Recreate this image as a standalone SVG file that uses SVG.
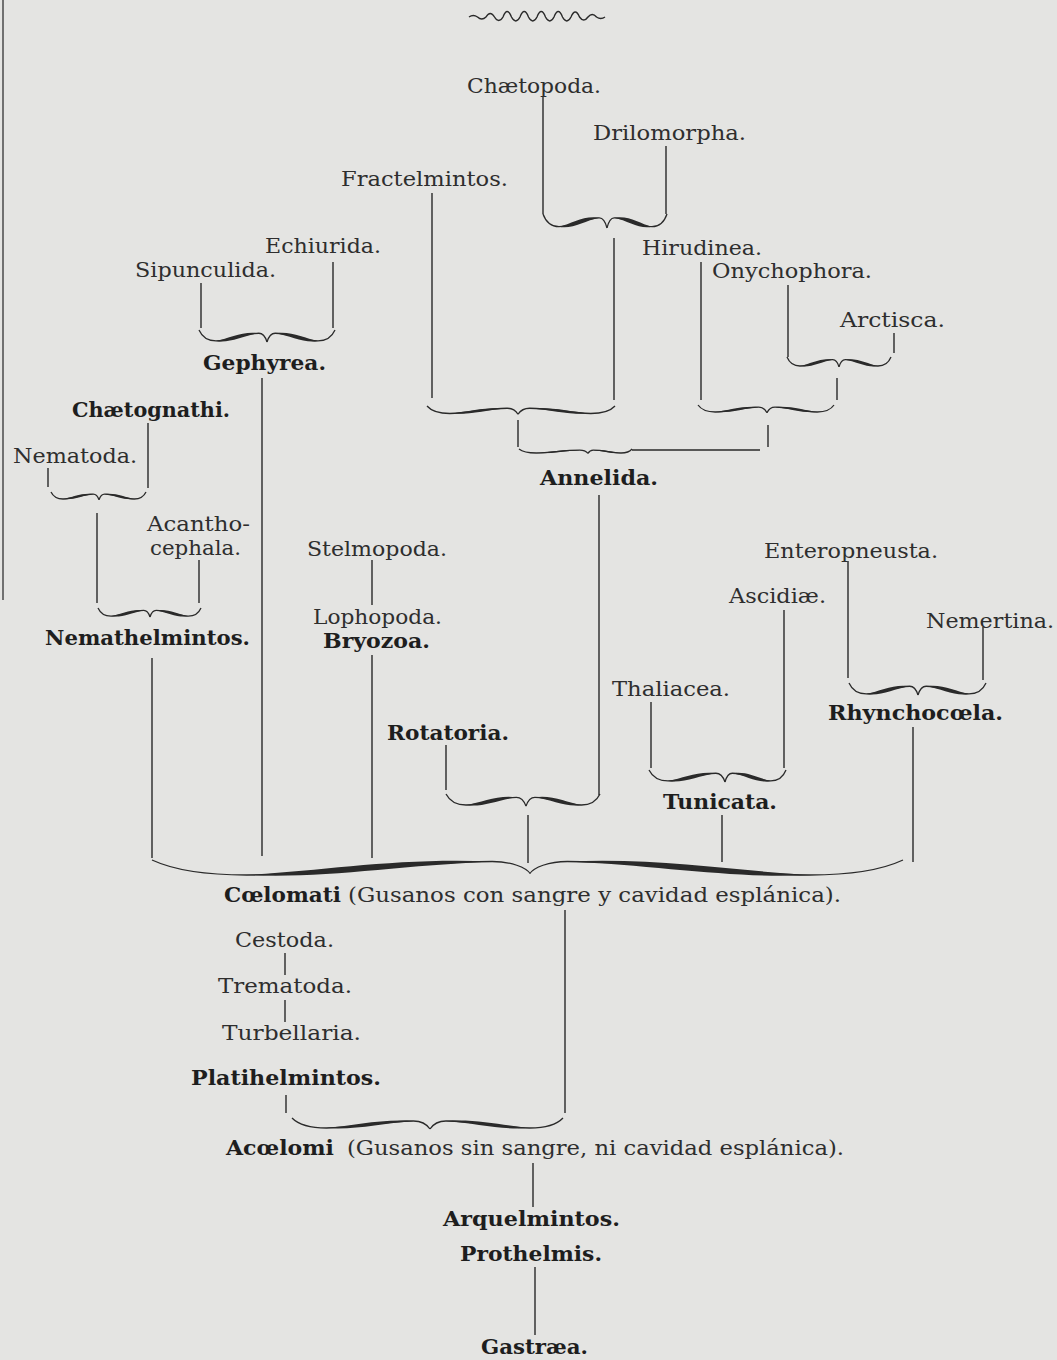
<svg xmlns="http://www.w3.org/2000/svg" xmlns:xlink="http://www.w3.org/1999/xlink" width="1057" height="1360" viewBox="0 0 1057 1360">
<style>
.r{font-family:"DejaVu Serif","Liberation Serif",serif;font-size:21px;fill:#2e2e2e}
.b{font-family:"DejaVu Serif","Liberation Serif",serif;font-size:20.5px;font-weight:bold;fill:#1e1e1e}
.ln{stroke:#2a2a2a;stroke-width:1.4;fill:none}
.bc{stroke:#2a2a2a;stroke-width:1.3;fill:none;vector-effect:non-scaling-stroke}
.bf{fill:#2a2a2a;stroke:none}
</style>
<defs>
<g id="hb">
<path class="bc" d="M0,0 C5,7 14,10 25,10 C45,10 65,3 88,3 C94,3 98,7 100,11"/>
<path class="bf" d="M25,10 C45,7.6 65,0.6 88,3 C65,5.4 45,12.4 25,10 Z"/>
</g>
<g id="hbk">
<path class="bc" d="M0,0 C6,7 15,10 25,10 C45,10 65,1 90,1 C95,1 99,5 100,9"/>
<path class="bf" d="M25,10 C45,7.3 65,-1.7 90,1 C65,3.7 45,12.7 25,10 Z"/>
</g>
</defs>
<rect width="1057" height="1360" fill="#e4e4e2"/>
<line x1="3" y1="0" x2="3" y2="600" stroke="#4a4a4a" stroke-width="1.5"/>
<path id="ornament" class="ln" stroke-width="1.4" d="M469,17 Q473.25,14 477.5,17 Q481.75,21 486,17 Q490.25,10 494.5,17 Q498.75,24 503,17 Q507.25,6 511.5,17 Q515.75,25 520,17 Q524.25,6 528.5,17 Q532.75,25 537,17 Q541.25,6 545.5,17 Q549.75,25 554,17 Q558.25,6 562.5,17 Q566.75,25 571,17 Q575.25,7 579.5,17 Q583.75,23 588,17 Q592.25,12 596.5,17 Q600.75,20 605,17"/>

<g id="connectors">
<path class="ln" d="M543,97 V214 M666,146 V214 M614,238 V400 M432,193 V398 M518,420 V447 M768,425 V447 M632,450 H760 M599,495 V795 M701,262 V400 M788,285 V357 M894,333 V353 M837,378 V400 M201,283 V328 M333,262 V328 M262,378 V856 M148,423 V488 M48,468 V487 M97,513 V603 M199,560 V603 M152,658 V858 M372,560 V605 M372,655 V858 M446,745 V790 M528,815 V863 M651,702 V768 M784,610 V768 M722,815 V862 M848,561 V678 M983,627 V680 M913,727 V862 M565,910 V1113 M285,953 V975 M285,1000 V1022 M286,1095 V1113 M533,1163 V1207 M535,1267 V1335"/>
<use xlink:href="#hb" transform="translate(543,214) scale(0.64,1.27)"/>
<use xlink:href="#hb" transform="translate(667,214) scale(-0.60,1.27)"/>
<use xlink:href="#hb" transform="translate(427,406) scale(0.91,0.75)"/>
<use xlink:href="#hb" transform="translate(615,406) scale(-0.97,0.75)"/>
<use xlink:href="#hb" transform="translate(787,357) scale(0.52,0.9)"/>
<use xlink:href="#hb" transform="translate(891,357) scale(-0.52,0.9)"/>
<use xlink:href="#hb" transform="translate(698,405) scale(0.69,0.7)"/>
<use xlink:href="#hb" transform="translate(834,405) scale(-0.67,0.7)"/>
<use xlink:href="#hb" transform="translate(519,449) scale(0.69,0.4)"/>
<use xlink:href="#hb" transform="translate(632,449) scale(-0.44,0.4)"/>
<use xlink:href="#hb" transform="translate(199,330) scale(0.68,1.09)"/>
<use xlink:href="#hb" transform="translate(335,330) scale(-0.68,1.09)"/>
<use xlink:href="#hb" transform="translate(51,492) scale(0.48,0.7)"/>
<use xlink:href="#hb" transform="translate(146,492) scale(-0.47,0.7)"/>
<use xlink:href="#hb" transform="translate(98,608) scale(0.52,0.82)"/>
<use xlink:href="#hb" transform="translate(201,608) scale(-0.51,0.82)"/>
<use xlink:href="#hb" transform="translate(446,794) scale(0.80,1.1)"/>
<use xlink:href="#hb" transform="translate(600,794) scale(-0.74,1.1)"/>
<use xlink:href="#hb" transform="translate(649,770) scale(0.76,1.09)"/>
<use xlink:href="#hb" transform="translate(786,770) scale(-0.61,1.09)"/>
<use xlink:href="#hb" transform="translate(849,683) scale(0.69,1.09)"/>
<use xlink:href="#hb" transform="translate(986,683) scale(-0.68,1.09)"/>
<use xlink:href="#hbk" transform="translate(152,860) scale(3.78,1.5)"/>
<use xlink:href="#hbk" transform="translate(903,860) scale(-3.73,1.5)"/>
<use xlink:href="#hb" transform="translate(292,1118) scale(1.38,1.0)"/>
<use xlink:href="#hb" transform="translate(563,1118) scale(-1.33,1.0)"/>
</g>

<g id="n_chaetopoda"><text class="r" x="467" y="93" textLength="134" lengthAdjust="spacingAndGlyphs">Chætopoda.</text></g>
<g id="n_drilomorpha"><text class="r" x="593" y="140" textLength="153" lengthAdjust="spacingAndGlyphs">Drilomorpha.</text></g>
<g id="n_fractelmintos"><text class="r" x="341" y="186" textLength="167" lengthAdjust="spacingAndGlyphs">Fractelmintos.</text></g>
<g id="n_echiurida"><text class="r" x="265" y="253" textLength="116" lengthAdjust="spacingAndGlyphs">Echiurida.</text></g>
<g id="n_sipunculida"><text class="r" x="135" y="277" textLength="141" lengthAdjust="spacingAndGlyphs">Sipunculida.</text></g>
<g id="n_hirudinea"><text class="r" x="642" y="255" textLength="120" lengthAdjust="spacingAndGlyphs">Hirudinea.</text></g>
<g id="n_onychophora"><text class="r" x="712" y="278" textLength="160" lengthAdjust="spacingAndGlyphs">Onychophora.</text></g>
<g id="n_arctisca"><text class="r" x="840" y="327" textLength="105" lengthAdjust="spacingAndGlyphs">Arctisca.</text></g>
<g id="n_gephyrea"><text class="b" x="203" y="370" textLength="123" lengthAdjust="spacingAndGlyphs">Gephyrea.</text></g>
<g id="n_chaetognathi"><text class="b" x="72" y="417" textLength="158" lengthAdjust="spacingAndGlyphs">Chætognathi.</text></g>
<g id="n_nematoda"><text class="r" x="13" y="463" textLength="124" lengthAdjust="spacingAndGlyphs">Nematoda.</text></g>
<g id="n_annelida"><text class="b" x="540" y="485" textLength="118" lengthAdjust="spacingAndGlyphs">Annelida.</text></g>
<g id="n_acanthocephala"><text class="r" x="147" y="531" textLength="103" lengthAdjust="spacingAndGlyphs">Acantho-</text><text class="r" x="150" y="555" textLength="91" lengthAdjust="spacingAndGlyphs">cephala.</text></g>
<g id="n_stelmopoda"><text class="r" x="307" y="556" textLength="140" lengthAdjust="spacingAndGlyphs">Stelmopoda.</text></g>
<g id="n_enteropneusta"><text class="r" x="764" y="558" textLength="174" lengthAdjust="spacingAndGlyphs">Enteropneusta.</text></g>
<g id="n_ascidiae"><text class="r" x="729" y="603" textLength="97" lengthAdjust="spacingAndGlyphs">Ascidiæ.</text></g>
<g id="n_nemertina"><text class="r" x="926" y="628" textLength="128" lengthAdjust="spacingAndGlyphs">Nemertina.</text></g>
<g id="n_lophopoda"><text class="r" x="313" y="624" textLength="129" lengthAdjust="spacingAndGlyphs">Lophopoda.</text></g>
<g id="n_bryozoa"><text class="b" x="323" y="648" textLength="107" lengthAdjust="spacingAndGlyphs">Bryozoa.</text></g>
<g id="n_nemathelmintos"><text class="b" x="45" y="645" textLength="205" lengthAdjust="spacingAndGlyphs">Nemathelmintos.</text></g>
<g id="n_thaliacea"><text class="r" x="612" y="696" textLength="118" lengthAdjust="spacingAndGlyphs">Thaliacea.</text></g>
<g id="n_rhynchocoela"><text class="b" x="828" y="720" textLength="175" lengthAdjust="spacingAndGlyphs">Rhynchocœla.</text></g>
<g id="n_rotatoria"><text class="b" x="387" y="740" textLength="122" lengthAdjust="spacingAndGlyphs">Rotatoria.</text></g>
<g id="n_tunicata"><text class="b" x="663" y="809" textLength="114" lengthAdjust="spacingAndGlyphs">Tunicata.</text></g>
<g id="n_coelomati"><text class="b" x="224" y="902" textLength="117" lengthAdjust="spacingAndGlyphs">Cœlomati</text><text class="r" x="348" y="902" textLength="493" lengthAdjust="spacingAndGlyphs">(Gusanos con sangre y cavidad esplánica).</text></g>
<g id="n_cestoda"><text class="r" x="235" y="947" textLength="99" lengthAdjust="spacingAndGlyphs">Cestoda.</text></g>
<g id="n_trematoda"><text class="r" x="218" y="993" textLength="134" lengthAdjust="spacingAndGlyphs">Trematoda.</text></g>
<g id="n_turbellaria"><text class="r" x="222" y="1040" textLength="139" lengthAdjust="spacingAndGlyphs">Turbellaria.</text></g>
<g id="n_platihelmintos"><text class="b" x="191" y="1085" textLength="190" lengthAdjust="spacingAndGlyphs">Platihelmintos.</text></g>
<g id="n_acoelomi"><text class="b" x="226" y="1155" textLength="108" lengthAdjust="spacingAndGlyphs">Acœlomi</text><text class="r" x="347" y="1155" textLength="497" lengthAdjust="spacingAndGlyphs">(Gusanos sin sangre, ni cavidad esplánica).</text></g>
<g id="n_arquelmintos"><text class="b" x="443" y="1226" textLength="177" lengthAdjust="spacingAndGlyphs">Arquelmintos.</text></g>
<g id="n_prothelmis"><text class="b" x="460" y="1261" textLength="142" lengthAdjust="spacingAndGlyphs">Prothelmis.</text></g>
<g id="n_gastraea"><text class="b" x="481" y="1354" textLength="107" lengthAdjust="spacingAndGlyphs">Gastræa.</text></g>
</svg>
